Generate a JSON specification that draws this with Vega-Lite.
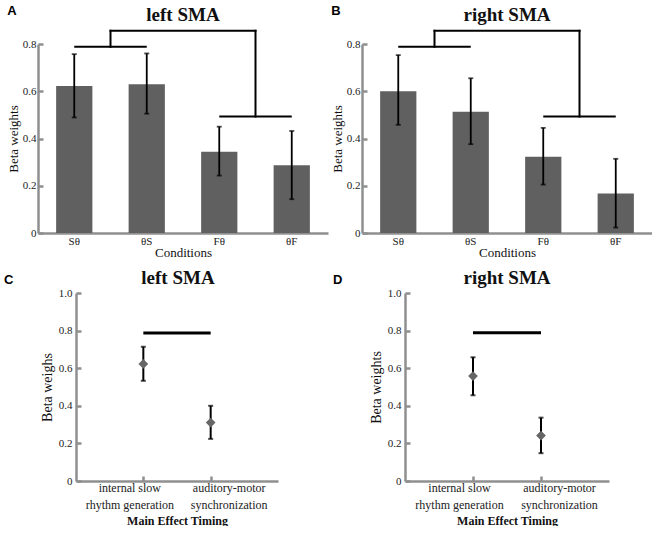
{
  "$schema": "https://vega.github.io/schema/vega-lite/v6.json",
  "background": "white",
  "padding": {"left": 3, "top": 5, "right": 0, "bottom": 0},
  "config": {
    "font": "Liberation Serif",
    "view": {"stroke": null},
    "style": {"guide-label": {"font": "Liberation Serif"}, "guide-title": {"font": "Liberation Serif"}},
    "axis": {"domainColor": "#8f8f8f", "domainWidth": 2.5, "tickColor": "#8f8f8f", "tickWidth": 2.5, "labelFont": "Liberation Serif", "labelColor": "#222222", "titleFont": "Liberation Serif", "titleFontWeight": "normal", "titleColor": "#111111", "grid": false, "labelOverlap": false},
    "title": {"font": "Liberation Serif", "fontSize": 19, "fontWeight": "bold", "color": "#111111"}
  },
  "datasets": {
    "bars": [
      {"region": "left SMA", "cond": "Sθ", "beta": 0.622, "lo": 0.489, "hi": 0.757},
      {"region": "left SMA", "cond": "θS", "beta": 0.630, "lo": 0.505, "hi": 0.760},
      {"region": "left SMA", "cond": "Fθ", "beta": 0.344, "lo": 0.243, "hi": 0.450},
      {"region": "left SMA", "cond": "θF", "beta": 0.287, "lo": 0.143, "hi": 0.432},
      {"region": "right SMA", "cond": "Sθ", "beta": 0.600, "lo": 0.458, "hi": 0.753},
      {"region": "right SMA", "cond": "θS", "beta": 0.513, "lo": 0.376, "hi": 0.655},
      {"region": "right SMA", "cond": "Fθ", "beta": 0.323, "lo": 0.205, "hi": 0.445},
      {"region": "right SMA", "cond": "θF", "beta": 0.167, "lo": 0.023, "hi": 0.314}
    ],
    "pairs": [
      {"region": "left SMA", "from": "Sθ", "to": "θS", "level": 0.788},
      {"region": "left SMA", "from": "Fθ", "to": "θF", "level": 0.493},
      {"region": "right SMA", "from": "Sθ", "to": "θS", "level": 0.788},
      {"region": "right SMA", "from": "Fθ", "to": "θF", "level": 0.493}
    ],
    "spans": [
      {"region": "left SMA", "from": "Sθ", "to": "Fθ", "level": 0.856},
      {"region": "right SMA", "from": "Sθ", "to": "Fθ", "level": 0.856}
    ],
    "drops": [
      {"region": "left SMA", "at": "Sθ", "low": 0.788, "high": 0.856},
      {"region": "left SMA", "at": "Fθ", "low": 0.493, "high": 0.856},
      {"region": "right SMA", "at": "Sθ", "low": 0.788, "high": 0.856},
      {"region": "right SMA", "at": "Fθ", "low": 0.493, "high": 0.856}
    ],
    "timing": [
      {"region": "left SMA", "timing": "internal slow rhythm generation", "beta": 0.623, "lo": 0.533, "hi": 0.714},
      {"region": "left SMA", "timing": "auditory-motor synchronization", "beta": 0.311, "lo": 0.224, "hi": 0.400},
      {"region": "right SMA", "timing": "internal slow rhythm generation", "beta": 0.558, "lo": 0.456, "hi": 0.658},
      {"region": "right SMA", "timing": "auditory-motor synchronization", "beta": 0.242, "lo": 0.148, "hi": 0.337}
    ],
    "sig": [
      {"region": "left SMA", "from": "internal slow rhythm generation", "to": "auditory-motor synchronization", "level": 0.787},
      {"region": "right SMA", "from": "internal slow rhythm generation", "to": "auditory-motor synchronization", "level": 0.788}
    ]
  },
  "columns": 1,
  "align": "none",
  "spacing": 10,
  "concat": [
    {
      "spacing": 3,
      "hconcat": [
        {
          "title": {"text": "A", "orient": "top", "anchor": "start", "font": "Liberation Sans", "fontSize": 13, "fontWeight": "bold", "color": "#000000", "offset": 0, "dy": 12},
          "hconcat": [
            {
              "width": 290, "height": 189,
              "title": {"text": "left SMA", "offset": 4},
              "layer": [
                {"data": {"name": "bars"}, "transform": [{"filter": "datum.region === 'left SMA'"}],
                 "mark": {"type": "bar", "color": "#606060"},
                 "encoding": {
                   "x": {"field": "cond", "type": "nominal", "title": "Conditions", "scale": {"domain": ["Sθ", "θS", "Fθ", "θF"], "paddingInner": 0.5, "paddingOuter": 0.25},
                         "axis": {"ticks": false, "labelAngle": 0, "labelFont": "Liberation Serif", "labelFontSize": 11, "labelPadding": 2, "titleFont": "Liberation Serif", "titleFontSize": 13, "titlePadding": 0}},
                   "y": {"field": "beta", "type": "quantitative", "title": "Beta weights", "scale": {"domain": [0, 0.8], "nice": false},
                         "axis": {"tickCount": 4, "labelOverlap": false, "labelExpr": "datum.value == 0 ? '0' : format(datum.value, '.1f')", "tickSize": -5, "labelPadding": 7, "labelFont": "Liberation Serif", "labelFontSize": 11, "titleFont": "Liberation Serif", "titleFontSize": 13, "titlePadding": 2}}
                 }},
                {"data": {"name": "bars"}, "transform": [{"filter": "datum.region === 'left SMA'"}],
                 "mark": {"type": "errorbar", "color": "black", "thickness": 1.8, "ticks": {"size": 5, "thickness": 1.8, "color": "black"}},
                 "encoding": {
                   "x": {"field": "cond", "type": "nominal", "title": "Conditions"},
                   "y": {"field": "lo", "type": "quantitative", "title": "Beta weights"},
                   "y2": {"field": "hi"}
                 }},
                {"data": {"name": "pairs"}, "transform": [{"filter": "datum.region === 'left SMA'"}],
                 "mark": {"type": "rule", "color": "black", "strokeWidth": 2},
                 "encoding": {
                   "x": {"field": "from", "type": "nominal", "bandPosition": 0.5, "title": "Conditions"},
                   "x2": {"field": "to", "bandPosition": 0.5},
                   "y": {"field": "level", "type": "quantitative", "title": "Beta weights"}
                 }},
                {"data": {"name": "spans"}, "transform": [{"filter": "datum.region === 'left SMA'"}],
                 "mark": {"type": "rule", "color": "black", "strokeWidth": 2, "strokeCap": "square"},
                 "encoding": {
                   "x": {"field": "from", "type": "nominal", "bandPosition": 1.5, "title": "Conditions"},
                   "x2": {"field": "to", "bandPosition": 1.5},
                   "y": {"field": "level", "type": "quantitative", "title": "Beta weights"}
                 }},
                {"data": {"name": "drops"}, "transform": [{"filter": "datum.region === 'left SMA'"}],
                 "mark": {"type": "rule", "color": "black", "strokeWidth": 2, "strokeCap": "square"},
                 "encoding": {
                   "x": {"field": "at", "type": "nominal", "bandPosition": 1.5, "title": "Conditions"},
                   "y": {"field": "low", "type": "quantitative", "title": "Beta weights"},
                   "y2": {"field": "high"}
                 }}
              ]
            }
          ]
        },
        {
          "title": {"text": "B", "orient": "top", "anchor": "start", "font": "Liberation Sans", "fontSize": 13, "fontWeight": "bold", "color": "#000000", "offset": 0, "dy": 12},
          "hconcat": [
            {
              "width": 290, "height": 189,
              "title": {"text": "right SMA", "offset": 4},
              "layer": [
                {"data": {"name": "bars"}, "transform": [{"filter": "datum.region === 'right SMA'"}],
                 "mark": {"type": "bar", "color": "#606060"},
                 "encoding": {
                   "x": {"field": "cond", "type": "nominal", "title": "Conditions", "scale": {"domain": ["Sθ", "θS", "Fθ", "θF"], "paddingInner": 0.5, "paddingOuter": 0.25},
                         "axis": {"ticks": false, "labelAngle": 0, "labelFont": "Liberation Serif", "labelFontSize": 11, "labelPadding": 2, "titleFont": "Liberation Serif", "titleFontSize": 13, "titlePadding": 0}},
                   "y": {"field": "beta", "type": "quantitative", "title": "Beta weights", "scale": {"domain": [0, 0.8], "nice": false},
                         "axis": {"tickCount": 4, "labelOverlap": false, "labelExpr": "datum.value == 0 ? '0' : format(datum.value, '.1f')", "tickSize": -5, "labelPadding": 7, "labelFont": "Liberation Serif", "labelFontSize": 11, "titleFont": "Liberation Serif", "titleFontSize": 13, "titlePadding": 2}}
                 }},
                {"data": {"name": "bars"}, "transform": [{"filter": "datum.region === 'right SMA'"}],
                 "mark": {"type": "errorbar", "color": "black", "thickness": 1.8, "ticks": {"size": 5, "thickness": 1.8, "color": "black"}},
                 "encoding": {
                   "x": {"field": "cond", "type": "nominal", "title": "Conditions"},
                   "y": {"field": "lo", "type": "quantitative", "title": "Beta weights"},
                   "y2": {"field": "hi"}
                 }},
                {"data": {"name": "pairs"}, "transform": [{"filter": "datum.region === 'right SMA'"}],
                 "mark": {"type": "rule", "color": "black", "strokeWidth": 2},
                 "encoding": {
                   "x": {"field": "from", "type": "nominal", "bandPosition": 0.5, "title": "Conditions"},
                   "x2": {"field": "to", "bandPosition": 0.5},
                   "y": {"field": "level", "type": "quantitative", "title": "Beta weights"}
                 }},
                {"data": {"name": "spans"}, "transform": [{"filter": "datum.region === 'right SMA'"}],
                 "mark": {"type": "rule", "color": "black", "strokeWidth": 2, "strokeCap": "square"},
                 "encoding": {
                   "x": {"field": "from", "type": "nominal", "bandPosition": 1.5, "title": "Conditions"},
                   "x2": {"field": "to", "bandPosition": 1.5},
                   "y": {"field": "level", "type": "quantitative", "title": "Beta weights"}
                 }},
                {"data": {"name": "drops"}, "transform": [{"filter": "datum.region === 'right SMA'"}],
                 "mark": {"type": "rule", "color": "black", "strokeWidth": 2, "strokeCap": "square"},
                 "encoding": {
                   "x": {"field": "at", "type": "nominal", "bandPosition": 1.5, "title": "Conditions"},
                   "y": {"field": "low", "type": "quantitative", "title": "Beta weights"},
                   "y2": {"field": "high"}
                 }}
              ]
            }
          ]
        }
      ]
    },
    {
      "spacing": 54,
      "hconcat": [
        {
          "width": 240, "height": 188,
          "title": {"text": "left SMA", "offset": -15, "frame": "group", "dx": 20},
          "resolve": {"axis": {"y": "independent"}},
          "layer": [
            {"data": {"name": "sig"}, "transform": [{"filter": "datum.region === 'left SMA'"}],
             "mark": {"type": "rule", "color": "black", "strokeWidth": 3},
             "encoding": {
               "x": {"field": "from", "type": "nominal", "title": "Main Effect Timing", "scale": {"type": "point", "domain": ["internal slow rhythm generation", "auditory-motor synchronization"], "padding": 1, "range": [38, 240]},
                     "axis": {"tickSize": -5, "labelAngle": 0, "labelFont": "Liberation Serif", "labelFontSize": 12, "labelLineHeight": 17, "labelPadding": 6,
                              "labelOffset": {"condition": {"test": "datum.value == 'internal slow rhythm generation'", "value": -14}, "value": 18},
                              "labelExpr": "datum.value == 'internal slow rhythm generation' ? ['internal slow', 'rhythm generation'] : ['auditory-motor', 'synchronization']",
                              "titleFont": "Liberation Serif", "titleFontSize": 12, "titleFontWeight": "bold", "titlePadding": 5}},
               "x2": {"field": "to"},
               "y": {"field": "level", "type": "quantitative", "title": "Beta weighs", "scale": {"domain": [0, 1], "nice": false},
                     "axis": {"orient": "left", "offset": -38, "tickCount": 5, "labelOverlap": false, "labelExpr": "datum.value == 0 ? '0' : format(datum.value, '.1f')", "tickSize": -5, "labelPadding": 9, "labelFont": "Liberation Serif", "labelFontSize": 11, "titleFont": "Liberation Serif", "titleFontSize": 14, "titlePadding": 4}}
             }},
            {"data": {"name": "timing"}, "transform": [{"filter": "datum.region === 'left SMA'"}],
             "mark": {"type": "errorbar", "color": "black", "thickness": 2, "ticks": {"size": 5, "thickness": 2, "color": "black"}},
             "encoding": {
               "x": {"field": "timing", "type": "nominal", "title": "Main Effect Timing"},
               "y": {"field": "lo", "type": "quantitative", "axis": null},
               "y2": {"field": "hi"}
             }},
            {"data": {"name": "timing"}, "transform": [{"filter": "datum.region === 'left SMA'"}],
             "mark": {"type": "point", "shape": "diamond", "filled": true, "color": "#666666", "opacity": 1, "size": 95},
             "encoding": {
               "x": {"field": "timing", "type": "nominal", "title": "Main Effect Timing"},
               "y": {"field": "beta", "type": "quantitative", "title": "C",
                     "axis": {"orient": "left", "offset": -38, "domain": false, "ticks": false, "labels": false, "grid": false, "titleAngle": 0, "titleAlign": "right", "titleBaseline": "alphabetic", "titleY": -10, "titlePadding": 63, "titleFont": "Liberation Sans", "titleFontSize": 13, "titleFontWeight": "bold", "titleColor": "#000000"}}
             }}
          ]
        },
        {
          "width": 204, "height": 188,
          "title": {"text": "right SMA", "offset": -15},
          "resolve": {"axis": {"y": "independent"}},
          "layer": [
            {"data": {"name": "sig"}, "transform": [{"filter": "datum.region === 'right SMA'"}],
             "mark": {"type": "rule", "color": "black", "strokeWidth": 3},
             "encoding": {
               "x": {"field": "from", "type": "nominal", "title": "Main Effect Timing", "scale": {"type": "point", "domain": ["internal slow rhythm generation", "auditory-motor synchronization"], "padding": 1},
                     "axis": {"tickSize": -5, "labelAngle": 0, "labelFont": "Liberation Serif", "labelFontSize": 12, "labelLineHeight": 17, "labelPadding": 6,
                              "labelOffset": {"condition": {"test": "datum.value == 'internal slow rhythm generation'", "value": -14}, "value": 18},
                              "labelExpr": "datum.value == 'internal slow rhythm generation' ? ['internal slow', 'rhythm generation'] : ['auditory-motor', 'synchronization']",
                              "titleFont": "Liberation Serif", "titleFontSize": 12, "titleFontWeight": "bold", "titlePadding": 5}},
               "x2": {"field": "to"},
               "y": {"field": "level", "type": "quantitative", "title": "Beta weights", "scale": {"domain": [0, 1], "nice": false},
                     "axis": {"orient": "left", "tickCount": 5, "labelOverlap": false, "labelExpr": "datum.value == 0 ? '0' : format(datum.value, '.1f')", "tickSize": -5, "labelPadding": 9, "labelFont": "Liberation Serif", "labelFontSize": 11, "titleFont": "Liberation Serif", "titleFontSize": 14, "titlePadding": 4}}
             }},
            {"data": {"name": "timing"}, "transform": [{"filter": "datum.region === 'right SMA'"}],
             "mark": {"type": "errorbar", "color": "black", "thickness": 2, "ticks": {"size": 5, "thickness": 2, "color": "black"}},
             "encoding": {
               "x": {"field": "timing", "type": "nominal", "title": "Main Effect Timing"},
               "y": {"field": "lo", "type": "quantitative", "axis": null},
               "y2": {"field": "hi"}
             }},
            {"data": {"name": "timing"}, "transform": [{"filter": "datum.region === 'right SMA'"}],
             "mark": {"type": "point", "shape": "diamond", "filled": true, "color": "#666666", "opacity": 1, "size": 95},
             "encoding": {
               "x": {"field": "timing", "type": "nominal", "title": "Main Effect Timing"},
               "y": {"field": "beta", "type": "quantitative", "title": "D",
                     "axis": {"orient": "left", "domain": false, "ticks": false, "labels": false, "grid": false, "titleAngle": 0, "titleAlign": "right", "titleBaseline": "alphabetic", "titleY": -10, "titlePadding": 63, "titleFont": "Liberation Sans", "titleFontSize": 13, "titleFontWeight": "bold", "titleColor": "#000000"}}
             }}
          ]
        }
      ]
    }
  ]
}
